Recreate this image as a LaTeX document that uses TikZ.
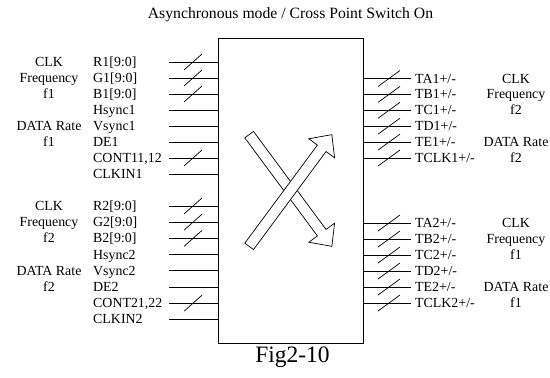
\documentclass[tikz,border=0pt]{standalone}
\usepackage{fontspec}
\setmainfont{Liberation Serif}
\usetikzlibrary{calc}
\begin{document}
\begin{tikzpicture}[x=1pt,y=-1pt,
  lbl/.style={font=\fontsize{13.9}{16}\selectfont, inner sep=0pt, anchor=base west},
  grp/.style={font=\fontsize{13.9}{16}\selectfont, inner sep=0pt, anchor=base},
  wire/.style={line width=0.7pt},
  xarrow/.style={line width=0.7pt, fill=white, line join=miter},
]
\useasboundingbox (0,0) rectangle (550,378);
\node[draw, line width=0.9pt, minimum width=145pt, minimum height=305pt, inner sep=0pt] (chip) at (290.5,190.5) {};

% title and caption
\node[font=\fontsize{15.7}{18}\selectfont, inner sep=0pt, anchor=base] (title) at (290.5,18.5) {Asynchronous mode / Cross Point Switch On};
\node[font=\fontsize{23.5}{26}\selectfont, inner sep=0pt, anchor=base] (fig) at (292.5,362.5) {Fig2-10};

% left pins
\foreach \t/\y/\b [count=\i] in {{R1[9:0]}/62/1,{G1[9:0]}/78/1,{B1[9:0]}/94/1,Hsync1/110/0,Vsync1/126/0,DE1/142/0,{CONT11,12}/158/1,CLKIN1/174/0,
  {R2[9:0]}/206/1,{G2[9:0]}/222.2/1,{B2[9:0]}/238.4/1,Hsync2/254.6/0,Vsync2/270.8/0,DE2/287/0,{CONT21,22}/303.2/1,CLKIN2/319.4/0} {
  \node[lbl] (Lt\i) at (93,\y+4.5) {\t};
  \coordinate (Ls\i) at (169,\y);
  \draw[wire] (Ls\i) -- (Ls\i -| chip.west);
  \ifnum\b=1 \draw[wire] ($(Ls\i)+(15,8)$) -- ++(18,-16); \fi
}

% right pins
\foreach \t/\y [count=\i] in {{TA1+/-}/78.5,{TB1+/-}/94.4,{TC1+/-}/110.3,{TD1+/-}/126.2,{TE1+/-}/142.1,{TCLK1+/-}/158,
  {TA2+/-}/223,{TB2+/-}/239,{TC2+/-}/255,{TD2+/-}/271,{TE2+/-}/287,{TCLK2+/-}/303} {
  \node[lbl] (Rt\i) at (415,\y+4.5) {\t};
  \coordinate (Rs\i) at (411,\y);
  \draw[wire] (Rs\i -| chip.east) -- (Rs\i);
  \draw[wire] ($(Rs\i)+(-33,8)$) -- ++(22,-16);
}

% left group labels
\foreach \t/\y [count=\i] in {CLK/62,Frequency/78,f1/94,{DATA Rate}/126,f1/142,
  CLK/206,Frequency/222.2,f2/238.4,{DATA Rate}/270.8,f2/287} {
  \node[grp] (Lg\i) at (49,\y+4.5) {\t};
}
% right group labels
\foreach \t/\y [count=\i] in {CLK/78.5,Frequency/94.4,f2/110.3,{DATA Rate}/142.1,f2/158,
  CLK/223,Frequency/239,f1/255,{DATA Rate}/287,f1/303} {
  \node[grp] (Rg\i) at (516,\y+4.5) {\t};
}

% crossing arrows
\begin{scope}[shift={(290.5,190.5)}, rotate=-53.5]
  \draw[xarrow] (-69.5,-5.4) -- (52.5,-5.4) -- (52.5,-16) -- (69.5,0) -- (52.5,16) -- (52.5,5.4) -- (-69.5,5.4) -- cycle;
\end{scope}
\begin{scope}[shift={(290.5,190.5)}, rotate=53.5]
  \draw[xarrow] (-69.5,-5.4) -- (52.5,-5.4) -- (52.5,-16) -- (69.5,0) -- (52.5,16) -- (52.5,5.4) -- (-69.5,5.4) -- cycle;
\end{scope}
\end{tikzpicture}
\end{document}
